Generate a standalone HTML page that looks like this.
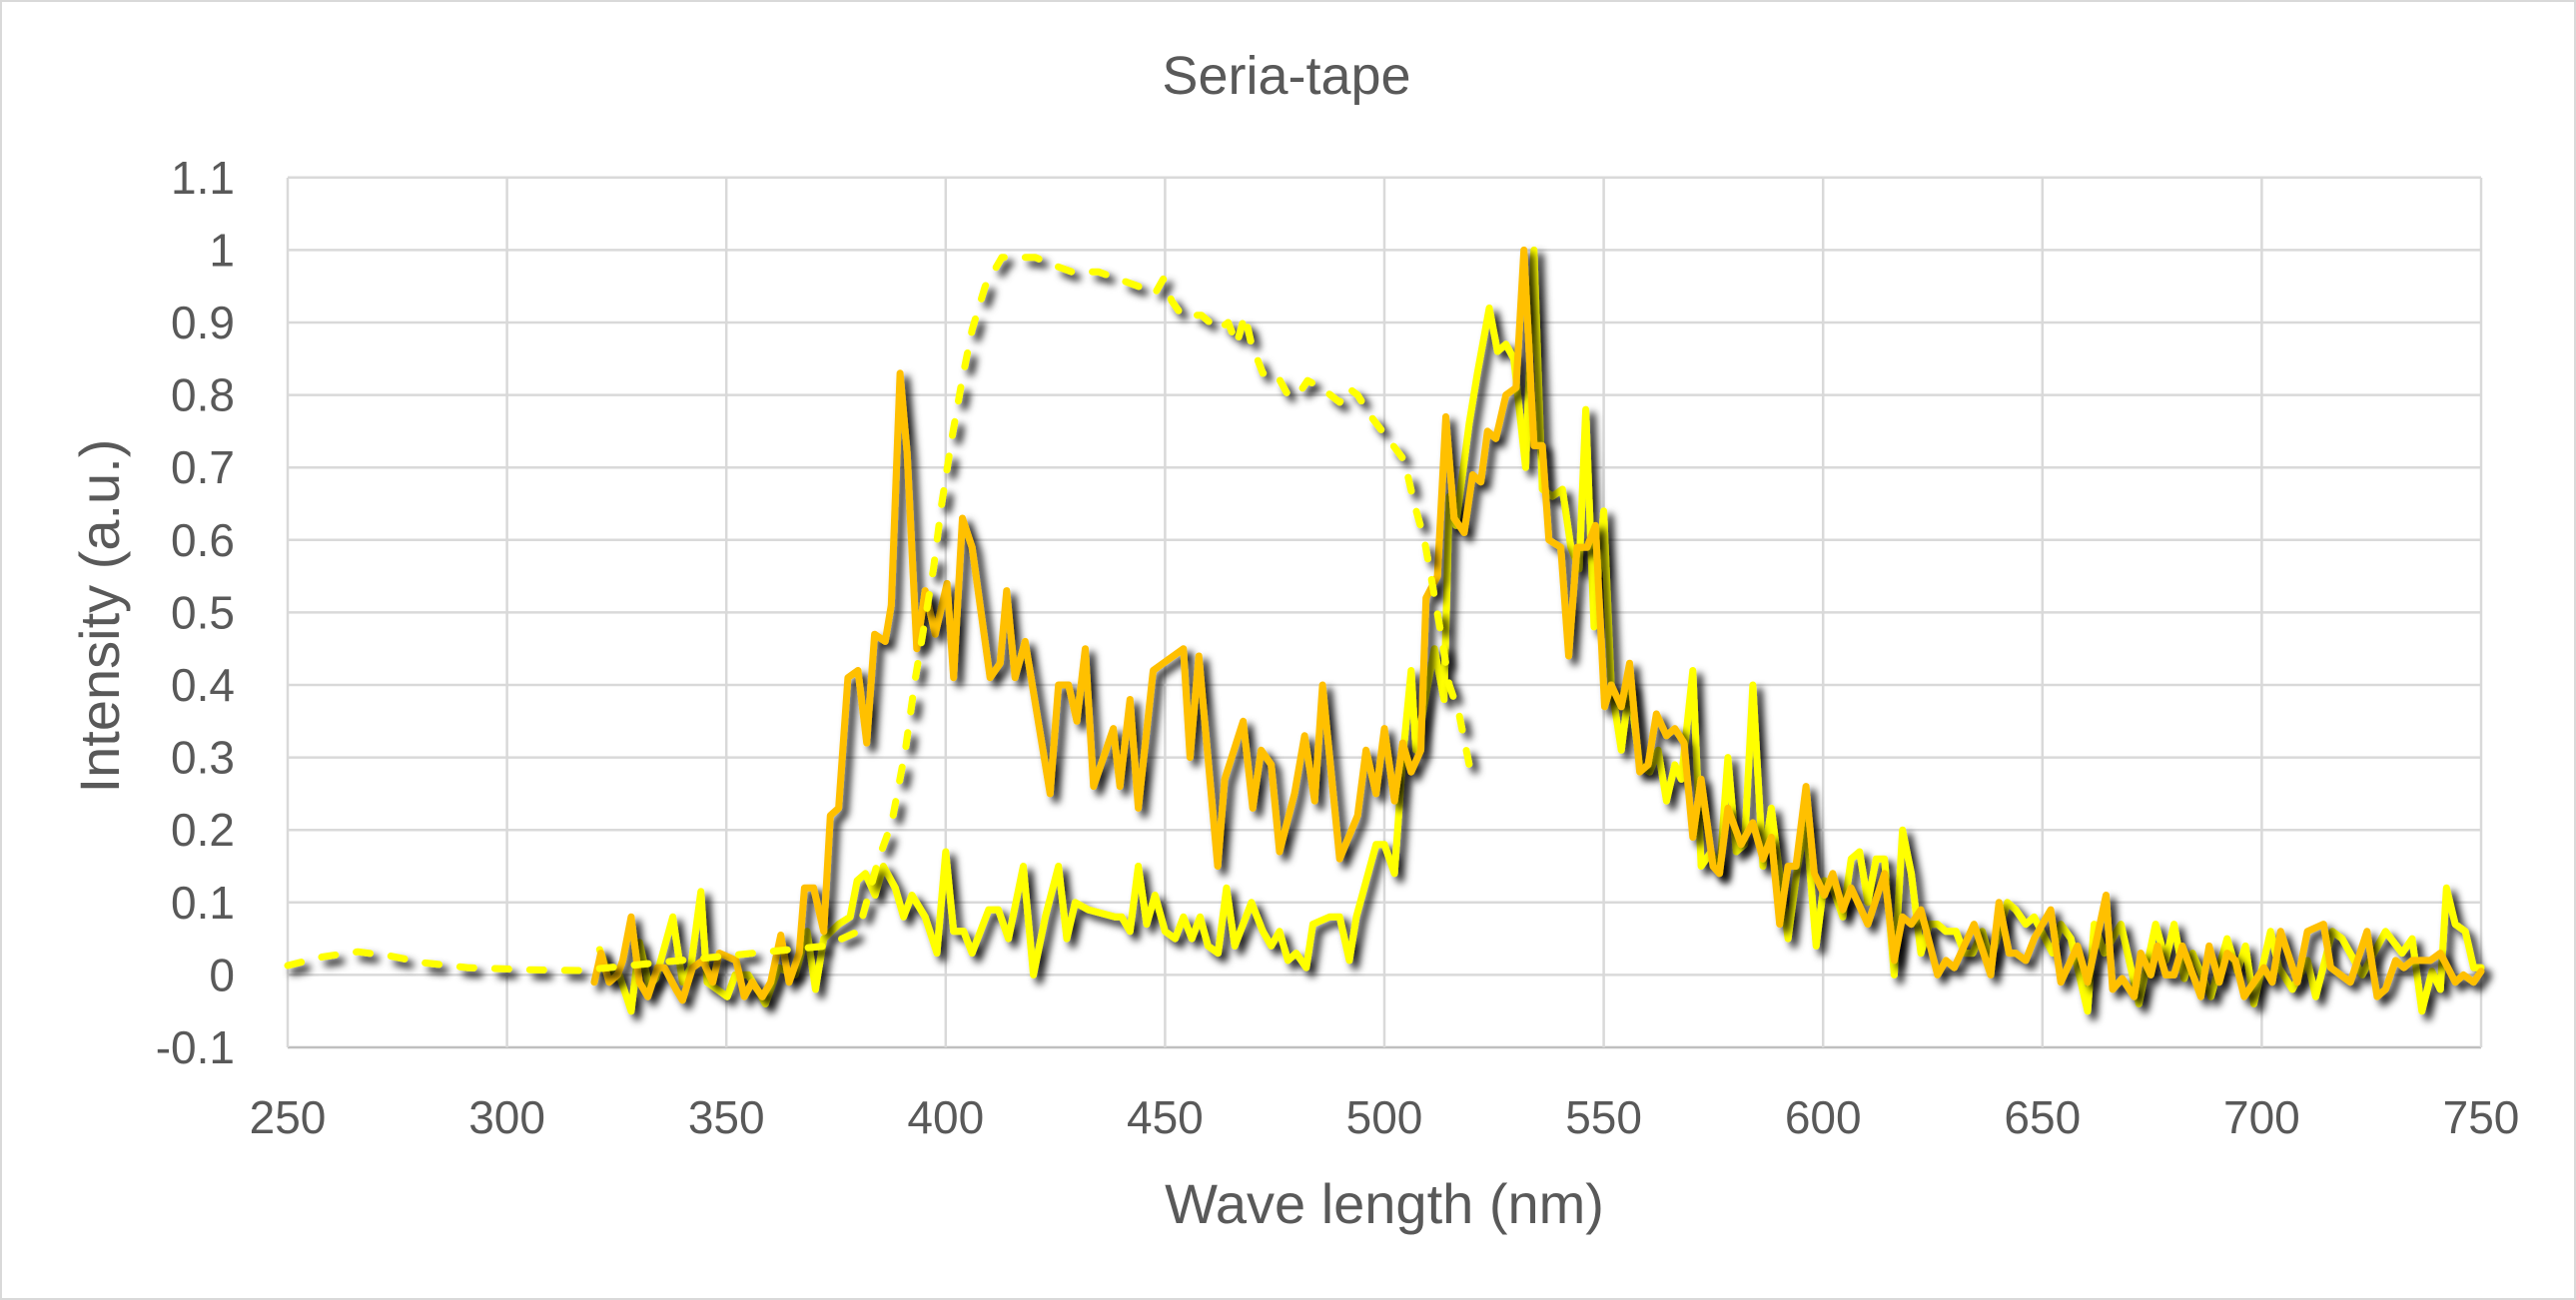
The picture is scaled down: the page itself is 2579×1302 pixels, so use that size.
<!DOCTYPE html>
<html><head><meta charset="utf-8"><style>
html,body{margin:0;padding:0;background:#fff;}
svg{display:block;}
text{font-family:"Liberation Sans",sans-serif;fill:#595959;}
</style></head><body>
<svg id="c" width="2579" height="1302" viewBox="0 0 2579 1302" xmlns="http://www.w3.org/2000/svg">
<defs>
<filter id="sh" x="-10%" y="-10%" width="120%" height="120%">
<feDropShadow dx="6" dy="6" stdDeviation="4" flood-color="#000" flood-opacity="0.9"/>
</filter>
</defs>
<rect x="1" y="1" width="2577" height="1300" fill="#fff" stroke="#d9d9d9" stroke-width="2"/>
<g id="grid"></g>
<g id="series"></g>
<text x="1288" y="94" font-size="54" text-anchor="middle">Seria-tape</text>
<text x="1386" y="1225" font-size="56" text-anchor="middle">Wave length (nm)</text>
<text transform="translate(119,617) rotate(-90)" font-size="56" text-anchor="middle">Intensity (a.u.)</text>
<g id="labels"></g>
</svg>
<script>
var NS="http://www.w3.org/2000/svg";
function X(nm){return 288+(nm-250)*4.392;}
function Y(v){return 976.4-v*726;}
function el(t,a,p,txt){var e=document.createElementNS(NS,t);for(var k in a)e.setAttribute(k,a[k]);if(txt!==undefined)e.textContent=txt;p.appendChild(e);return e;}
var g=document.getElementById('grid'),lb=document.getElementById('labels');
for(var i=0;i<=12;i++){var v=-0.1+i*0.1;var y=Y(v);
 el('line',{x1:288,x2:2484,y1:y,y2:y,stroke:i==0?'#bfbfbf':'#d9d9d9','stroke-width':2.5},g);
 var s=(Math.round(v*10)/10).toString();
 el('text',{x:235,y:y+16,'font-size':46,'text-anchor':'end'},lb,s);}
for(var n=250;n<=750;n+=50){var x=X(n);
 el('line',{x1:x,x2:x,y1:178,y2:1049,stroke:'#d9d9d9','stroke-width':2.5},g);
 el('text',{x:x,y:1135,'font-size':46,'text-anchor':'middle'},lb,String(n));}
var dashed=[[250,.013],[258,.025],[266,.032],[273.5,.026],[280.8,.017],[291,.01],[305.5,.007],[316.5,.006],
[372.6,.04],[380.1,.06],[384.7,.16],[387.7,.21],[390.8,.31],[393.1,.41],[395.3,.49],[397.2,.56],[399.1,.65],[401.4,.74],[403.7,.82],[406,.89],[409,.95],[412.8,.99],[416.6,.99],[420.4,.99],[424.2,.98],[428.7,.97],[434.8,.97],[439.3,.96],[443.9,.95],[447.7,.94],[449.6,.96],[451.5,.93],[453.8,.91],
[458.3,.91],[462.1,.89],[464.4,.90],[466.3,.87],[468.2,.91],[469.7,.87],[472.3,.83],[475.3,.83],[478,.80],[480.3,.80],[482.5,.82],[485.6,.81],[489.8,.79],[491.7,.81],[493.9,.80],[497,.77],[500.8,.74],[504.5,.71],[506.8,.65],[509.1,.60],[510.6,.55],[512.9,.47],[514.8,.40],[517,.36],[520,.27]];
var orange=[[319.9,-.01],[321.4,.03],[323.3,-.01],[325.2,0],[326.4,.02],[328.3,.08],[330.2,-.01],[332.1,-.03],[334.3,.01],[335.9,.01],[338.5,-.02],[340,-.035],[342.3,.01],[344.6,.02],[346.9,-.01],[348.4,.03],[352.2,.02],[354.1,-.03],[355.9,-.01],[358.2,-.03],[360.1,-.01],[362.4,.055],[364.3,-.01],[366.6,.03],
[367.8,.12],[369.9,.12],[372.2,.06],[373.7,.22],[375.6,.23],[377.7,.41],[380,.42],[382,.32],[383.8,.47],[386.2,.46],[387.6,.51],[389.6,.83],[391.2,.72],[393.4,.45],[395.3,.53],[397.6,.47],[400.3,.54],[401.8,.41],[403.8,.63],[406,.59],[410.1,.41],[412.4,.43],[413.9,.53],[415.8,.41],[418.1,.46],[423.8,.25],[425.7,.40],[428,.40],[429.9,.35],[431.8,.45],[433.7,.26],[438.2,.34],[439.7,.26],[442,.38],[443.9,.23],[447.3,.42],[449.6,.43],[454.2,.45],[455.7,.30],
[457.7,.44],[462,.15],[463.6,.27],[467.8,.35],[470,.23],[471.9,.31],[474.2,.29],[476.1,.17],[479.5,.25],[481.8,.33],[484.1,.24],[485.9,.40],[489.8,.16],[493.9,.22],[495.8,.31],[498.1,.25],[500,.34],[502.3,.24],[504.2,.32],[506.1,.28],[508.3,.31],[509.5,.52],[512.1,.55],[514,.77],[515.9,.63],[518.2,.61],[520.1,.69],[522,.68],[523.5,.75],[525.4,.74],[527.7,.80],[530,.81],[531.8,1.0],[534.1,.73],[536,.73],[537.5,.60],[540.2,.59],[542,.44],[543.9,.59],[546.2,.59],[548.1,.62],
[550.2,.37],[551.7,.40],[554,.37],[555.9,.43],[558.2,.28],[560.1,.29],[562,.36],[564.3,.33],[566.2,.34],[568.3,.32],[570.3,.19],[572.2,.27],[574.9,.15],[576.4,.14],[578.3,.23],[581.3,.18],[584,.21],[586.3,.16],[588.2,.19],[590.1,.07],[592,.15],[593.8,.15],[596.1,.26],[598,.14],[600.3,.11],[602.2,.14],[604.5,.09],[606.4,.12],[610.2,.07],[614,.14],[616.2,.02],[618.1,.08],[620.1,.07],[622.3,.09],[626.1,0],[628,.02],[629.9,.01],[634.4,.07],[638.2,0],[640.1,.10],[642.4,.03],[643.9,.03],[646.2,.02],[648.1,.05],
[651.9,.09],[654.2,-.01],[658,.04],[660.3,-.01],[664.5,.11],[666,-.02],[668.2,-.005],[670.9,-.03],[672.4,.03],[674.7,0],[676.2,.04],[678.1,0],[680,0],[681.9,.04],[686.1,-.03],[688,.04],[690.3,-.01],[692.1,.03],[694,.02],[696,-.03],[700.5,.01],[702.4,-.01],[704.3,.06],[708.1,-.01],[710.4,.06],[714.1,.07],[715.7,.01],[720.2,-.01],[724,.06],[726.3,-.03],[728.2,-.02],[730.5,.02],[732.4,.01],[734.3,.02],[738.4,.02],[740.7,.03],[744.1,-.01],[746,0],[748.3,-.01],[750,.005]];
var yellow=[[321.1,.035],[323.3,0],[325.6,0],[328.3,-.05],[330.2,.045],[332.4,-.015],[333.9,-.005],[337.8,.08],[340,-.01],[341.9,.01],[344.2,.115],
[345.6,-.01],[350.2,-.03],[352,0],[355,0],[358.9,-.04],[361.9,.01],[365.7,0],[368.4,.06],[370.3,-.02],[372.2,.05],[375.6,.07],[378.2,.08],[379.8,.13],[381.7,.14],[383.9,.11],[385.8,.15],[388.5,.12],[390.4,.08],[392.3,.11],[395.3,.08],[398,.03],[400,.17],[401.8,.06],[404.1,.06],[406,.03],[409.8,.09],[412,.09],[414.3,.05],[417.7,.15],[420,0],[422.7,.08],[425.7,.15],[427.6,.05],[429.5,.10],[432.5,.09],[438.6,.08],[440.1,.08],[442,.06],[443.9,.15],[445.8,.07],[447.7,.11],[450,.06],[452.3,.05],[454.2,.08],
[456.1,.05],[458,.08],[459.8,.04],[462.1,.03],[464,.12],[465.9,.04],[469.7,.10],[472.3,.06],[474.2,.04],[476.1,.06],[478,.02],[479.9,.03],[482.2,.01],[483.7,.07],[487.5,.08],[489.8,.08],[492,.02],[493.6,.08],[498.1,.18],[500,.18],[502.3,.14],[504.2,.30],[506.1,.42],[507.2,.31],[511.4,.45],[513.6,.38],[514.8,.66],[516.3,.62],[519.3,.76],[521.2,.83],[523.9,.92],[525.8,.86],[527.7,.87],[529.5,.85],[532.2,.70],[534.1,1.0],[536,.67],[538.3,.66],[540.6,.67],[542.5,.59],[544.4,.56],[545.9,.78],[547.8,.48],[550,.64],
[551.7,.40],[554,.31],[555.9,.40],[558.2,.29],[560.5,.28],[562.4,.31],[564.3,.24],[566.2,.29],[567.7,.27],[570.3,.42],[572.2,.15],[574.5,.17],[576.4,.14],[578.3,.30],[580.2,.17],[582.1,.18],[584,.40],[586.3,.15],[588.2,.23],[590.1,.14],[592,.05],[594.2,.15],[596.1,.21],[598.4,.04],[600.3,.13],[602.2,.12],[604.5,.08],[606.4,.16],[608.3,.17],[610.2,.10],[612.1,.16],[614,.16],[616.2,0],[618.1,.20],[620.1,.14],[622.3,.03],[624.2,.07],[626.1,.07],[628,.06],[630.3,.06],[632.2,.03],[634.1,.03],[636.3,.06],[638.2,.02],[640.1,.06],[642,.10],[643.9,.09],[646.2,.07],[648.1,.08],
[652.3,.03],[654.2,.07],[656.5,.05],[660.3,-.05],[661.8,.07],[664.1,.03],[667.9,.07],[672,-.04],[675.8,.07],[678.1,.02],[680,.07],[682.3,-.005],[684.2,.03],[688.4,-.03],[692.1,.05],[694.4,.005],[696.3,.04],[698.2,-.04],[702,.06],[703.9,.01],[707,-.02],[710.4,.02],[712.3,-.03],[716.1,.06],[718.3,.05],[722.9,0],[728.2,.06],[732,.03],[734.3,.05],[736.5,-.05],[738.8,.005],[740.7,-.02],[742.1,.12],[744.1,.07],[746.4,.06],[748.3,.01],[750,.01]];
function pts(d){return d.map(function(p){return X(p[0]).toFixed(1)+','+Y(p[1]).toFixed(1);}).join(' ');}
var s=document.getElementById('series');
el('polyline',{points:pts(yellow),fill:'none',stroke:'#FFFF00','stroke-width':7,'stroke-linejoin':'round','stroke-linecap':'round',filter:'url(#sh)'},s);
el('polyline',{points:pts(orange),fill:'none',stroke:'#FFC000','stroke-width':7,'stroke-linejoin':'round','stroke-linecap':'round',filter:'url(#sh)'},s);
el('polyline',{points:pts(dashed),fill:'none',stroke:'#FFFF00','stroke-width':7,'stroke-linejoin':'round','stroke-linecap':'round','stroke-dasharray':'14 21',filter:'url(#sh)'},s);
</script>
</body></html>
